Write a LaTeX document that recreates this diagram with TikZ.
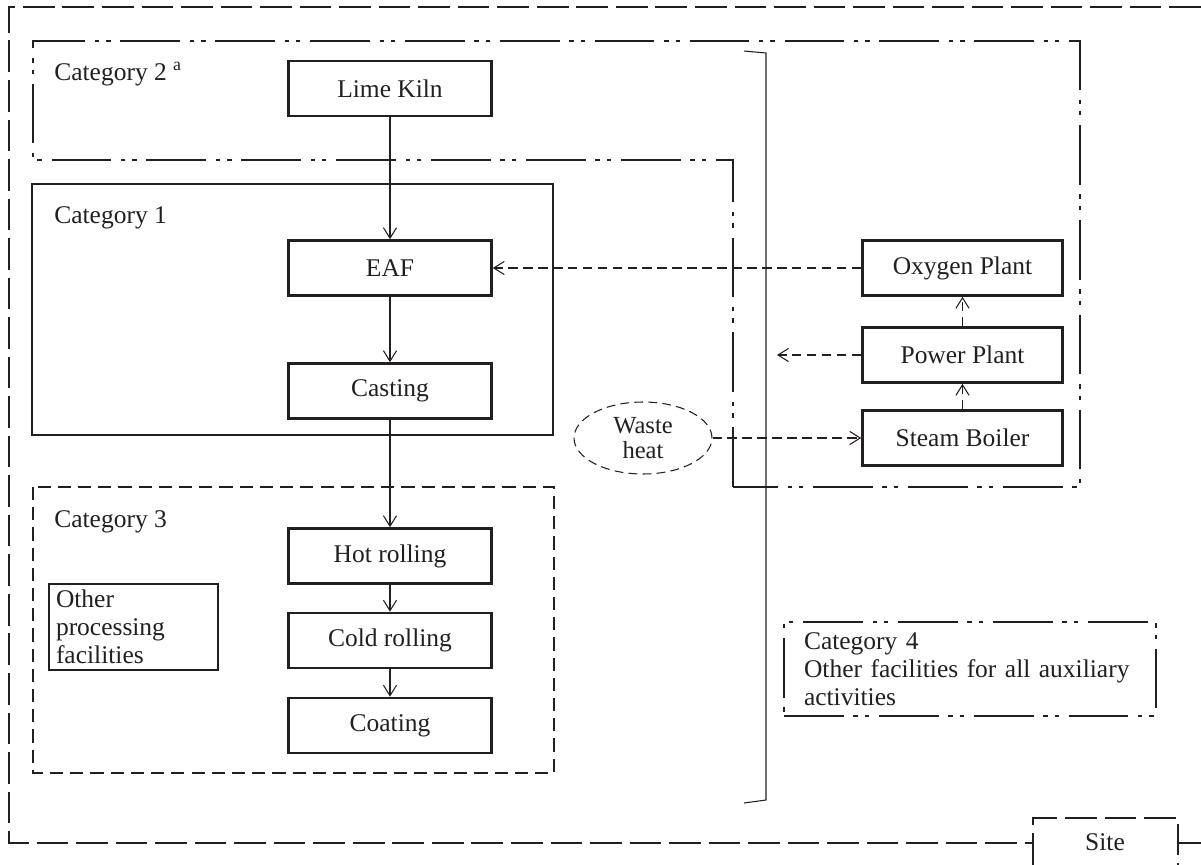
\documentclass[tikz,border=0pt]{standalone}
\usepackage{fontspec}
\setmainfont{Liberation Serif}
\usetikzlibrary{arrows.meta,shapes.geometric}

\definecolor{ink}{HTML}{231F20}

\begin{document}
\begin{tikzpicture}[x=0.02cm, y=-0.02cm,
      every node/.style={
        text=ink,
        font=\fontsize{14.5}{16}\selectfont  % one text size for all labels
      },
      unit/.style={
        draw=ink,
        line width=1.5pt,
        minimum width=4.06cm,
        minimum height=1.1cm,
        inner sep=2pt
      },
      catlabel/.style={anchor=west, inner sep=0pt},
      flow/.style={draw=ink, line width=0.6pt, -{Straight Barb[length=6pt,width=7.5pt]}},
      dflow/.style={flow, dash pattern=on 5.5pt off 3pt},
      dashdot/.style={draw=ink, line width=1.1pt,
        dash pattern=on 34pt off 5.5pt on 2.5pt off 4pt on 2.5pt off 5.5pt},
      siteline/.style={draw=ink, line width=1.1pt, dash pattern=on 18pt off 4.5pt}
    ]
      \useasboundingbox (0,0) rectangle (1201,865);

      % site boundary
      \draw[siteline] (1201,7) -- (9,7) -- (9,843) -- (1033,843);
      \draw[siteline] (1178,843) -- (1201,843);
      \draw[siteline] (1033,865) -- (1033,818) -- (1178,818) -- (1178,865);
      \node (site) at (1105,842) {Site};

      % category frames
      \draw[dashdot] (733,487) -- (733,160) -- (33,160) -- (33,41) -- (1080,41) -- (1080,487) -- cycle;
      \draw[draw=ink, line width=1.6pt] (32,184) rectangle (553,435);
      \draw[draw=ink, line width=0.6pt, dash pattern=on 7.5pt off 4pt] (33,487) rectangle (554,773);
      \draw[draw=ink, line width=0.6pt] (744,51) -- (766,53) -- (766,800) -- (744,803);

      \node[catlabel] (cat2) at (54,74) {Category 2 \textsuperscript{a}};
      \node[catlabel] (cat1) at (54,218) {Category 1};
      \node[catlabel] (cat3) at (54,522) {Category 3};

      % process units
      \node[unit] (kiln) at (390,88.5) {Lime Kiln};
      \node[unit] (eaf) at (390,268) {EAF};
      \node[unit] (cast) at (390,391) {Casting};
      \node[unit] (hot) at (390,556) {Hot rolling};
      \node[unit] (cold) at (390,640.5) {Cold rolling};
      \node[unit] (coat) at (390,725.5) {Coating};

      \node[unit, minimum width=4.0cm] (oxy) at (962.5,268) {Oxygen Plant};
      \node[unit, minimum width=4.0cm] (power) at (962.5,355) {Power Plant};
      \node[unit, minimum width=4.0cm] (boiler) at (962.5,438) {Steam Boiler};

      \node[draw=ink, line width=1.5pt, text width=3.1cm, align=left,
        inner xsep=4pt, inner ysep=0.5pt, minimum height=1.72cm] (other) at (133.5,627)
        {Other\\processing\\facilities};

      \node[dashdot, line width=1pt, text width=6.64cm, align=left,
        inner xsep=0.4cm, inner ysep=1pt, minimum height=1.88cm] (cat4) at (970,669)
        {Category 4\\Other facilities for all auxiliary\\activities};

      \node[ellipse, draw=ink, line width=0.6pt, dash pattern=on 5pt off 3pt,
        minimum width=2.76cm, minimum height=1.44cm, inner sep=0pt, align=center,
        font=\fontsize{14}{14}\selectfont] (waste) at (643,438) {Waste\\heat};

      \coordinate (aux) at (777,355);

      \draw[flow] (kiln) -- (eaf);
      \draw[flow] (eaf) -- (cast);
      \draw[flow] (cast) -- (hot);
      \draw[flow] (hot) -- (cold);
      \draw[flow] (cold) -- (coat);

      \draw[dflow] (oxy) -- (eaf);
      \draw[dflow] (power) -- (oxy);
      \draw[dflow] (boiler) -- (power);
      \draw[dflow] (power) -- (aux);
      \draw[dflow] (waste) -- (boiler);
    \end{tikzpicture}
\end{document}
